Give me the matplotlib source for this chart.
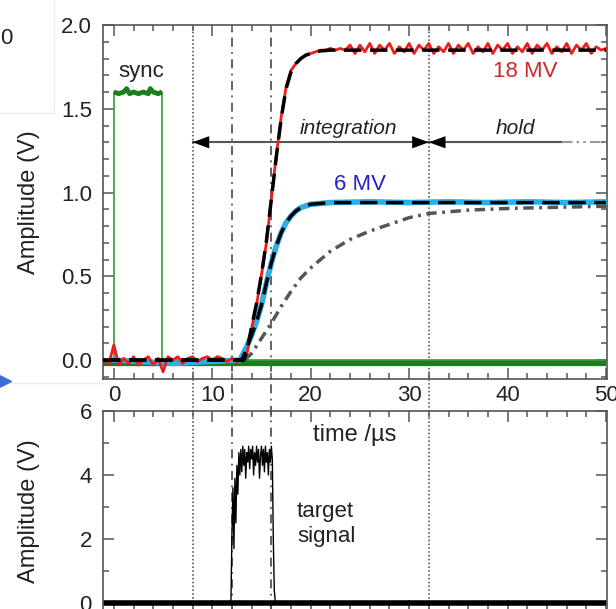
import numpy as np
import matplotlib
matplotlib.use('Agg')
import matplotlib.pyplot as plt
from matplotlib.lines import Line2D

plt.rcParams['font.family'] = ['Liberation Sans', 'DejaVu Sans']

# ---- сигналы (мкс, В) ----
# синхроимпульс
sync_t = [-1.1, 0.0, 0.0, 4.9, 4.9, 50.0]
sync_v = [0.0, 0.0, 1.6, 1.6, 0.0, 0.0]
sync_top_t = [0.0, 0.5, 1.0, 1.3, 1.6, 2.0, 2.5, 3.0, 3.5, 3.7, 4.0, 4.5, 4.9]
sync_top_v = [1.60, 1.59, 1.60, 1.62, 1.59, 1.60, 1.59, 1.60, 1.59, 1.62, 1.60, 1.59, 1.60]

# 18 MV, шаг 0.5 мкс начиная с -1.0
red_t0, red_dt = -1.0, 0.5
red_v = [
    0.00, -0.02, 0.09, -0.03, 0.01, -0.02, 0.02, -0.03, 0.00, 0.02,
    -0.03, 0.01, -0.07, 0.02, 0.00, 0.02, -0.02, 0.01, 0.02, -0.01,
    0.01, 0.02, 0.00, 0.02, 0.01, -0.01, 0.01, -0.01, 0.01, 0.03,
    0.19, 0.33, 0.51, 0.70, 0.96, 1.22, 1.45, 1.63, 1.73, 1.77,
    1.80, 1.82, 1.83, 1.84, 1.85, 1.85, 1.86, 1.85, 1.86, 1.85,
    1.88, 1.83, 1.88, 1.84, 1.89, 1.83, 1.88, 1.85, 1.89, 1.83,
    1.87, 1.84, 1.89, 1.83, 1.88, 1.85, 1.89, 1.83, 1.87, 1.84,
    1.89, 1.83, 1.88, 1.85, 1.89, 1.83, 1.87, 1.84, 1.89, 1.83,
    1.88, 1.85, 1.89, 1.83, 1.87, 1.84, 1.89, 1.83, 1.88, 1.85,
    1.89, 1.83, 1.87, 1.84, 1.89, 1.83, 1.88, 1.85, 1.89, 1.83,
    1.87, 1.85, 1.86,
]
fit18_t = [-1.1, 13.2, 13.5, 14.0, 14.5, 15.0, 15.5, 16.0, 16.5, 17.0,
           17.5, 18.0, 18.5, 19.0, 19.5, 20.0, 21.0, 22.0, 50.0]
fit18_v = [0.0, 0.0, 0.05, 0.20, 0.34, 0.51, 0.71, 0.96, 1.21, 1.44,
           1.62, 1.72, 1.77, 1.80, 1.82, 1.83, 1.845, 1.85, 1.85]

# 6 MV
cyan_t = [0.0, 6.0, 12.8, 13.5, 14.0, 14.5, 15.0, 15.5, 16.0, 16.5, 17.0,
          17.5, 18.0, 18.5, 19.0, 20.0, 21.0, 22.0, 26.0, 30.0, 34.0,
          38.0, 42.0, 46.0, 50.0]
cyan_v = [0.0, -0.02, 0.0, 0.08, 0.15, 0.23, 0.33, 0.46, 0.58, 0.68, 0.76,
          0.82, 0.86, 0.89, 0.91, 0.93, 0.935, 0.94, 0.945, 0.94, 0.945,
          0.94, 0.945, 0.94, 0.945]
fit6_t = [-1.1, 13.0, 13.5, 14.0, 14.5, 15.0, 15.5, 16.0, 16.5, 17.0,
          17.5, 18.0, 18.5, 19.0, 20.0, 21.0, 22.0, 50.0]
fit6_v = [0.0, 0.0, 0.07, 0.15, 0.23, 0.33, 0.46, 0.58, 0.68, 0.76,
          0.82, 0.86, 0.89, 0.91, 0.93, 0.935, 0.94, 0.94]

# отклик без коррекции (штрих-пунктир)
slow_t = [13.3, 14.0, 15.0, 16.0, 17.0, 18.0, 19.0, 20.0, 22.0, 24.0,
          26.0, 28.0, 30.0, 32.0, 36.0, 40.0, 45.0, 50.0]
slow_v = [0.0, 0.04, 0.13, 0.22, 0.32, 0.41, 0.49, 0.55, 0.65, 0.72,
          0.77, 0.81, 0.85, 0.875, 0.895, 0.905, 0.912, 0.918]

# сигнал мишени, шаг 0.1 мкс начиная с 11.8
tgt_t0, tgt_dt = 11.8, 0.1
tgt_v = [
    0.0, 0.1, 2.2, 3.6, 1.7, 3.9, 2.5, 4.3, 3.4, 4.7,
    4.0, 4.8, 4.1, 4.9, 4.3, 4.8, 3.9, 4.7, 4.4, 4.9,
    4.2, 4.8, 4.5, 4.9, 4.0, 4.7, 4.3, 4.9, 4.4, 4.8,
    3.9, 4.6, 4.9, 4.3, 4.8, 4.1, 4.9, 4.4, 4.7, 4.0,
    4.8, 4.4, 4.9, 4.5, 2.0, 0.4, 0.05, 0.0,
]

gate_dotted = [8, 32]
gate_dashdot = [12, 16]

red_t = red_t0 + red_dt * np.arange(len(red_v))
tgt_t = tgt_t0 + tgt_dt * np.arange(len(tgt_v))

W, H = 616, 609
fig = plt.figure(figsize=(W / 100, H / 100), dpi=100)

ax1 = fig.add_axes([103 / W, 1 - 379 / H, 504 / W, 354 / H])
ax2 = fig.add_axes([103 / W, 1 - 611 / H, 504 / W, 200 / H])
for ax in (ax1, ax2):
    ax.set_facecolor('none')
    ax.set_xlim(-1.1, 50.1)
    for s in ax.spines.values():
        s.set_color('#555555')
        s.set_linewidth(1.2)
    ax.xaxis.set_major_locator(plt.MultipleLocator(10))
    ax.xaxis.set_minor_locator(plt.MultipleLocator(2))
    ax.tick_params(which='both', direction='in', top=True, right=True,
                   color='#555555', width=1.1, labelsize=16, labelcolor='#222222')
    ax.tick_params(which='major', length=8)
    ax.tick_params(which='minor', length=4)
    ax.tick_params(axis='y', pad=8)
    ax.tick_params(axis='x', pad=4)

ax1.set_ylim(-0.113, 2.0)
ax1.yaxis.set_major_locator(plt.MultipleLocator(0.5))
ax1.yaxis.set_minor_locator(plt.MultipleLocator(0.1))
ax1.yaxis.set_major_formatter(plt.FormatStrFormatter('%.1f'))

ax2.set_ylim(-0.25, 6)
ax2.yaxis.set_major_locator(plt.MultipleLocator(2))
ax2.yaxis.set_minor_locator(plt.MultipleLocator(1))
ax2.tick_params(labelbottom=False)

for ax in (ax1, ax2):
    ax.set_ylabel('Amplitude (V)', fontsize=17, color='#222222')
    ax.yaxis.set_label_coords(-0.125, 0.5)

# временные ворота через обе панели
for x in gate_dotted:
    ax1.axvline(x, ymin=-0.7, ymax=1, clip_on=False, color='#444444',
                lw=1.1, ls=(0, (1, 1.5)), zorder=0.5)
for x in gate_dashdot:
    ax1.axvline(x, ymin=-0.7, ymax=1, clip_on=False, color='#555555',
                lw=1.3, ls=(0, (5, 3, 1, 3)), zorder=0.5)

# верхняя панель
ax1.plot([-1.1, 50.0], [-0.02, -0.02], color='#1b7d1b', lw=4.5, zorder=1,
         solid_capstyle='butt')
ax1.plot(sync_t, sync_v, color='#3a9c3a', lw=1.2, zorder=2)
ax1.plot(sync_top_t, sync_top_v, color='#1b7d1b', lw=3.5, zorder=2,
         solid_capstyle='butt')
ax1.plot(cyan_t, cyan_v, color='#2cb0e4', lw=4, zorder=3)
ax1.plot(red_t, red_v, color='#ee1c1c', lw=2, zorder=4)
ax1.plot(slow_t, slow_v, color='#555555', lw=2.5, ls=(0, (3, 1.6, 0.8, 1.6)),
         zorder=5)
ax1.plot(fit18_t, fit18_v, color='black', lw=2.5, ls=(0, (5, 2.5)), zorder=6)
ax1.plot(fit6_t, fit6_v, color='black', lw=2.5, ls=(0, (5, 2.5)), zorder=6)

# стрелки: интегрирование и удержание
arrow_y = 1.30
ax1.plot([8, 32], [arrow_y, arrow_y], color='#555555', lw=1.5, zorder=3)
ax1.plot([32, 45.5], [arrow_y, arrow_y], color='#555555', lw=1.5, zorder=3)
ax1.plot([45.5, 50.0], [arrow_y, arrow_y], color='#999999', lw=1.5,
         ls=(0, (5, 2, 1.2, 2, 1.2, 2)), zorder=3)
head = dict(arrowstyle='-|>,head_length=0.6,head_width=0.22', color='black',
            lw=0, shrinkA=0, shrinkB=0, mutation_scale=20)
for tip, tail in [(8, 10), (32, 30), (32, 34)]:
    ax1.annotate('', xy=(tip, arrow_y), xytext=(tail, arrow_y), arrowprops=head,
                 zorder=7)

ax1.text(2.8, 1.72, 'sync', fontsize=16, ha='center', va='center', color='#222222')
ax1.text(23.8, 1.385, 'integration', fontsize=15, style='italic',
         ha='center', va='center', color='#222222')
ax1.text(40.8, 1.385, 'hold', fontsize=15, style='italic',
         ha='center', va='center', color='#222222')
ax1.text(41.8, 1.725, '18 MV', fontsize=16, ha='center', va='center', color='#cc2a2a')
ax1.text(25.0, 1.045, '6 MV', fontsize=16, ha='center', va='center', color='#2424c4')

# нижняя панель
ax2.plot([-1.1, 50.0], [0, 0], color='black', lw=4, solid_capstyle='butt', zorder=2)
ax2.plot(tgt_t, tgt_v, color='black', lw=1, zorder=3)
ax2.text(18.6, 2.47, 'target\nsignal', fontsize=16, ha='left', va='center',
         linespacing=1.2, color='#222222')

fig.text(355 / W, 1 - 441 / H, 'time /µs', fontsize=17, ha='center',
         va='baseline', color='#222222')

# обрезки соседних элементов слева
fig.text(0, 1 - 38 / H, '0', fontsize=16, ha='left', va='center', color='#222222')
fig.add_artist(Line2D([54 / W, 54 / W], [1.0, 1 - 110 / H], color='#ececec', lw=1))
fig.add_artist(Line2D([0, 54 / W], [1 - 113 / H, 1 - 113 / H], color='#ececec', lw=1))
fig.add_artist(Line2D([10 / W, 103 / W], [1 - 383 / H, 1 - 383 / H], color='#ececec', lw=1))
fig.add_artist(Line2D([5 / W], [1 - 381 / H], marker='>', color='#3b6fd4',
                      markersize=9, ls='none'))

fig.savefig('out.png', dpi=100)
